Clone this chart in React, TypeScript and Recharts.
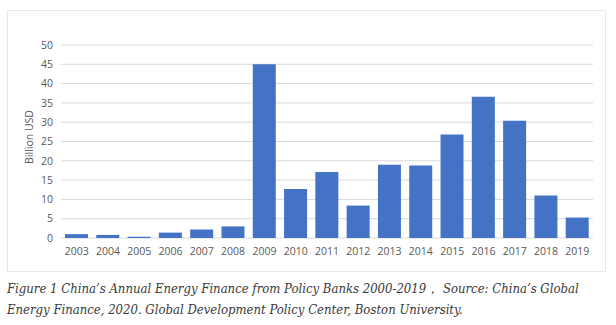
import React from 'react';
import { BarChart, Bar, XAxis, YAxis, CartesianGrid } from 'recharts';

const years = ['2003', '2004', '2005', '2006', '2007', '2008', '2009', '2010', '2011', '2012', '2013', '2014', '2015', '2016', '2017', '2018', '2019'];
const finance = [1.0, 0.8, 0.35, 1.4, 2.2, 3.0, 45.0, 12.7, 17.1, 8.4, 19.0, 18.8, 26.8, 36.6, 30.4, 11.0, 5.3];
const yTicks = [0, 5, 10, 15, 20, 25, 30, 35, 40, 45, 50];

const captionLine1 = 'Figure 1 China\u2019s Annual Energy Finance from Policy Banks 2000-2019\uFF0C Source: China\u2019s Global';
const captionLine2 = 'Energy Finance, 2020. Global Development Policy Center, Boston University.';

const data = years.map((y, i) => ({ year: y, value: finance[i] }));

const axisFont = '"Open Sans", "Noto Sans", sans-serif';

const YLabel = (props: any) => {
  const vb = props.viewBox || {};
  const cx = vb.x + vb.width / 2 - 1.5;
  const cy = vb.y + vb.height / 2 - 4.5;
  return (
    <text
      x={cx}
      y={cy}
      transform={`rotate(-90, ${cx}, ${cy})`}
      textAnchor="middle"
      dominantBaseline="central"
      fill="#595959"
      fontSize={10.5}
      fontFamily={axisFont}
    >
      Billion USD
    </text>
  );
};

export default function App() {
  return (
    <div style={{ position: 'absolute', left: 0, top: 0, width: 616, height: 325, background: '#fff' }}>
      <div
        style={{
          position: 'absolute',
          left: 7,
          top: 10,
          width: 599,
          height: 262,
          border: '1px solid #e8e8e8',
          boxSizing: 'border-box',
        }}
      />
      <div style={{ position: 'absolute', left: 0, top: 0 }}>
        <BarChart
          width={616}
          height={275}
          data={data}
          margin={{ top: 45, right: 23, left: 0, bottom: 7 }}
          barSize={23}
        >
          <CartesianGrid vertical={false} stroke="#d9d9d9" strokeWidth={1} />
          <XAxis
            dataKey="year"
            height={30}
            axisLine={false}
            tickLine={false}
            tickSize={0}
            tickMargin={10}
            interval={0}
            tick={{ fill: '#595959', fontSize: 10.5, fontFamily: axisFont }}
          />
          <YAxis
            width={61}
            domain={[0, 50]}
            ticks={yTicks}
            interval={0}
            axisLine={false}
            tickLine={false}
            tickSize={0}
            tickMargin={8}
            tick={{ fill: '#595959', fontSize: 10.5, fontFamily: axisFont }}
            label={<YLabel />}
          />
          <Bar dataKey="value" fill="#4472C4" isAnimationActive={false} />
        </BarChart>
      </div>
      <div
        style={{
          position: 'absolute',
          left: 7,
          top: 278,
          fontFamily: '"DejaVu Serif Condensed", "DejaVu Serif", serif',
          fontStretch: 'condensed',
          fontStyle: 'italic',
          fontSize: 13,
          lineHeight: '21px',
          color: '#3a3a3a',
          whiteSpace: 'nowrap',
        }}
      >
        <div>{captionLine1}</div>
        <div>{captionLine2}</div>
      </div>
    </div>
  );
}
